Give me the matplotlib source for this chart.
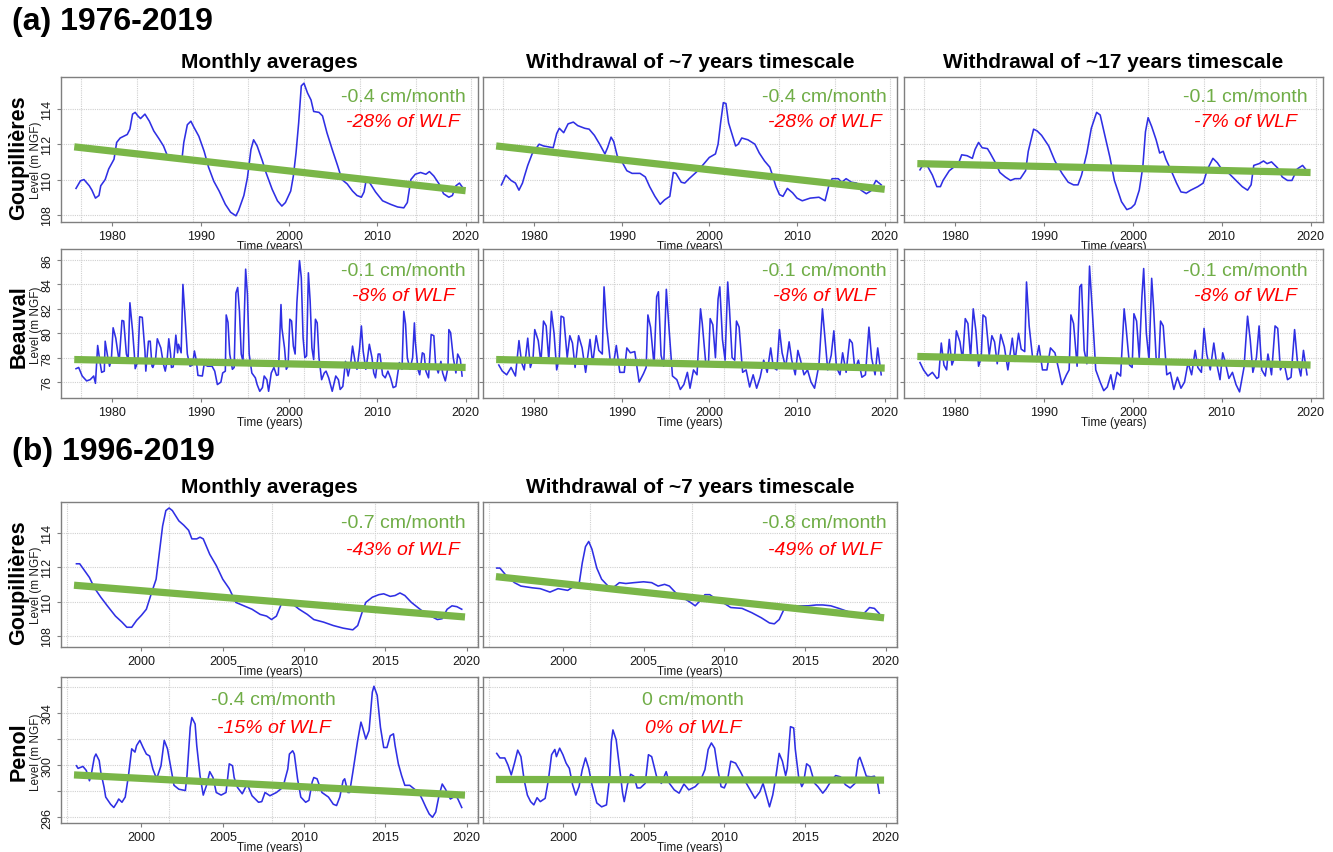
import matplotlib
matplotlib.use("Agg")
import matplotlib.pyplot as plt

plt.rcParams['font.family'] = ['Liberation Sans', 'DejaVu Sans']

# ---------------- DATA ----------------
# (a) 1976-2019 — Goupillières, monthly averages
a_goup_m_t = [1975.9, 1976.4, 1976.8, 1977.4, 1977.7, 1978.1, 1978.5, 1978.7, 1979.2, 1979.6,
              1980.2, 1980.5, 1980.9, 1981.7, 1982.0, 1982.3, 1982.6, 1982.9, 1983.2, 1983.7,
              1984.2, 1984.7, 1985.3, 1985.8, 1986.2, 1986.8, 1987.4, 1987.9, 1988.1, 1988.5,
              1988.9, 1989.2, 1989.8, 1990.4, 1990.9, 1991.5, 1992.1, 1992.8, 1993.4, 1994.0,
              1994.3, 1994.9, 1995.3, 1995.7, 1996.0, 1996.4, 1997.0, 1997.4, 1998.1, 1998.7,
              1999.2, 1999.6, 2000.2, 2000.5, 2000.8, 2001.1, 2001.4, 2001.7, 2002.1, 2002.5,
              2002.8, 2003.4, 2003.8, 2004.3, 2004.9, 2005.5, 2006.0, 2006.6, 2007.2, 2007.7,
              2008.2, 2008.5, 2008.7, 2009.1, 2009.8, 2010.6, 2011.5, 2012.3, 2013.0, 2013.4,
              2013.8, 2014.3, 2014.9, 2015.5, 2015.9, 2016.4, 2017.0, 2017.5, 2018.1, 2018.5,
              2018.9, 2019.3, 2019.8]
a_goup_m_v = [109.5, 109.93, 110.0, 109.65, 109.4, 108.95, 109.1, 109.65, 110.0, 110.6,
              111.15, 112.1, 112.35, 112.55, 112.85, 113.7, 113.8, 113.6, 113.45, 113.7,
              113.3, 112.75, 112.3, 111.9, 111.4, 111.35, 111.25, 111.2, 112.1, 113.1,
              113.3, 113.0, 112.45, 111.6, 110.7, 109.9, 109.35, 108.6, 108.15, 107.95,
              108.25, 109.1, 110.1, 111.7, 112.25, 111.9, 111.05, 110.4, 109.45, 108.8,
              108.5, 108.7, 109.35, 110.2, 111.5, 113.2, 115.3, 115.45, 114.9, 114.5,
              113.85, 113.8, 113.6, 112.65, 111.7, 110.8, 110.0, 109.75, 109.35, 109.1,
              109.0, 109.3, 109.85, 109.85, 109.3, 108.8, 108.6, 108.45, 108.4, 108.7,
              110.0, 110.3, 110.4, 110.3, 110.45, 110.2, 109.75, 109.2, 109.0, 109.1,
              109.65, 109.8, 109.45]

# (a) Goupillières, withdrawal of ~7 years timescale
a_goup_7_t = [1976.3, 1976.8, 1977.4, 1977.9, 1978.3, 1978.7, 1978.9, 1979.3, 1979.8, 1980.6,
              1981.1, 1982.2, 1982.6, 1982.9, 1983.4, 1983.9, 1984.5, 1985.0, 1985.8, 1986.3,
              1986.9, 1987.5, 1988.1, 1988.4, 1988.8, 1989.1, 1989.5, 1990.1, 1990.6, 1991.2,
              1992.1, 1992.7, 1993.2, 1993.8, 1994.4, 1994.9, 1995.5, 1995.9, 1996.2, 1996.8,
              1997.2, 1997.7, 1998.7, 1999.4, 2000.0, 2000.7, 2001.0, 2001.3, 2001.6, 2001.9,
              2002.2, 2002.6, 2003.0, 2003.3, 2003.7, 2004.4, 2005.2, 2005.7, 2006.3, 2006.9,
              2007.2, 2007.6, 2008.0, 2008.4, 2008.9, 2009.5, 2010.0, 2010.6, 2011.5, 2012.5,
              2013.2, 2013.6, 2014.0, 2014.7, 2015.1, 2015.6, 2016.2, 2016.8, 2017.3, 2017.9,
              2018.4, 2019.0, 2019.6]
a_goup_7_v = [109.7, 110.25, 109.95, 109.8, 109.4, 109.8, 110.15, 110.8, 111.45, 112.0,
              111.9, 111.8, 112.6, 112.9, 112.65, 113.15, 113.25, 113.05, 112.9, 112.85,
              112.5, 112.0, 111.45, 111.8, 112.4, 112.15, 111.35, 110.95, 110.5, 110.35,
              110.35, 110.15, 109.6, 109.05, 108.6, 108.85, 109.05, 110.4, 110.35, 109.85,
              109.8, 110.05, 110.5, 110.9, 111.25, 111.45, 112.0, 113.25, 114.35, 114.3,
              113.2, 112.55, 111.9, 112.0, 112.35, 112.25, 112.0, 111.5, 111.05, 110.7,
              110.25, 109.6, 109.15, 109.05, 109.5, 109.25, 108.95, 108.8, 108.95, 109.0,
              108.8, 109.6, 110.05, 110.05, 109.85, 110.05, 109.85, 109.8, 109.4, 109.2,
              109.35, 109.95, 109.7]

# (a) Goupillières, withdrawal of ~17 years timescale
a_goup_17_t = [1976.0, 1976.3, 1976.8, 1977.4, 1977.9, 1978.3, 1978.6, 1979.3, 1979.8, 1980.4,
               1980.7, 1981.3, 1981.9, 1982.2, 1982.6, 1983.0, 1983.6, 1983.9, 1984.5, 1985.0,
               1985.6, 1986.2, 1986.7, 1987.3, 1987.9, 1988.2, 1988.8, 1989.2, 1989.7, 1990.5,
               1991.2, 1992.0, 1992.7, 1993.3, 1993.8, 1994.2, 1994.8, 1995.3, 1995.9, 1996.3,
               1996.8, 1997.4, 1997.9, 1998.7, 1999.3, 1999.8, 2000.2, 2000.7, 2001.1, 2001.4,
               2001.7, 2002.1, 2002.6, 2003.0, 2003.4, 2003.7, 2004.3, 2004.9, 2005.4, 2006.0,
               2006.5, 2007.3, 2007.9, 2008.4, 2009.0, 2009.5, 2010.1, 2010.8, 2011.6, 2012.3,
               2012.9, 2013.3, 2013.6, 2014.2, 2014.7, 2015.1, 2015.6, 2016.3, 2016.8, 2017.4,
               2017.9, 2018.5, 2019.1, 2019.5]
a_goup_17_v = [110.55, 110.8, 110.8, 110.25, 109.6, 109.6, 109.95, 110.5, 110.7, 111.0,
               111.4, 111.35, 111.2, 111.7, 112.1, 111.8, 111.75, 111.5, 110.95, 110.4,
               110.15, 109.95, 110.05, 110.05, 110.5, 111.6, 112.85, 112.75, 112.5, 111.9,
               111.05, 110.35, 109.85, 109.7, 109.7, 110.25, 111.5, 112.9, 113.8, 113.65,
               112.55, 111.25, 109.95, 108.75, 108.3, 108.4, 108.6, 109.4, 110.7, 112.7,
               113.5, 113.0, 112.25, 111.5, 111.6, 111.15, 110.5, 109.8, 109.3, 109.25,
               109.4, 109.6, 109.8, 110.6, 111.2, 110.95, 110.5, 110.35, 109.95, 109.6,
               109.4, 109.7, 110.8, 110.9, 111.05, 110.9, 111.0, 110.65, 110.15, 109.95,
               109.95, 110.6, 110.8, 110.55]

# (a) Beauval, monthly averages
a_beau_m_t = [1975.9, 1976.2, 1976.6, 1977.1, 1977.5, 1977.9, 1978.1, 1978.35, 1978.6, 1978.8,
              1979.1, 1979.2, 1979.5, 1979.7, 1979.9, 1980.1, 1980.4, 1980.7, 1980.8, 1981.1,
              1981.3, 1981.6, 1981.8, 1982.0, 1982.3, 1982.5, 1982.6, 1982.9, 1983.1, 1983.4,
              1983.7, 1983.8, 1984.1, 1984.3, 1984.5, 1984.6, 1984.9, 1985.1, 1985.5, 1985.8,
              1986.0, 1986.2, 1986.4, 1986.6, 1986.7, 1986.9, 1987.2, 1987.4, 1987.5, 1987.8,
              1988.0, 1988.2, 1988.5, 1988.8, 1989.1, 1989.3, 1989.5, 1989.7, 1990.2, 1990.4,
              1990.8, 1991.3, 1991.6, 1991.9, 1992.3, 1992.5, 1992.8, 1992.9, 1993.1, 1993.3,
              1993.6, 1993.8, 1994.0, 1994.2, 1994.4, 1994.6, 1994.8, 1995.1, 1995.3, 1995.5,
              1995.8, 1996.2, 1996.4, 1996.7, 1997.0, 1997.2, 1997.5, 1997.7, 1998.0, 1998.3,
              1998.6, 1998.8, 1999.1, 1999.2, 1999.5, 1999.7, 1999.9, 2000.1, 2000.3, 2000.5,
              2000.7, 2000.9, 2001.2, 2001.4, 2001.6, 2001.8, 2002.0, 2002.2, 2002.4, 2002.6,
              2002.8, 2003.0, 2003.2, 2003.4, 2003.7, 2004.0, 2004.2, 2004.5, 2004.9, 2005.3,
              2005.6, 2005.8, 2006.1, 2006.4, 2006.7, 2007.0, 2007.2, 2007.5, 2007.7, 2008.0,
              2008.2, 2008.4, 2008.7, 2008.9, 2009.1, 2009.4, 2009.6, 2009.8, 2010.1, 2010.3,
              2010.6, 2010.9, 2011.2, 2011.5, 2011.8, 2012.1, 2012.5, 2012.8, 2013.0, 2013.2,
              2013.4, 2013.7, 2014.0, 2014.2, 2014.3, 2014.6, 2014.8, 2015.1, 2015.3, 2015.5,
              2015.8, 2016.1, 2016.4, 2016.6, 2016.9, 2017.2, 2017.4, 2017.7, 2018.0, 2018.1,
              2018.3, 2018.6, 2018.9, 2019.1, 2019.4, 2019.6]
a_beau_m_v = [77.1, 77.2, 76.5, 76.1, 76.2, 76.5, 75.9, 79.0, 77.7, 76.8,
              76.9, 79.35, 78.0, 77.3, 77.85, 80.45, 79.6, 78.1, 77.85, 81.05,
              81.0, 78.3, 77.85, 82.5, 80.2, 78.3, 77.1, 77.7, 81.35, 81.3,
              78.55, 76.9, 79.35, 79.35, 77.3, 77.2, 77.85, 79.55, 78.8, 77.45,
              76.9, 77.7, 79.55, 78.3, 77.2, 77.25, 79.85, 78.4, 79.1, 78.4,
              84.0, 81.8, 78.3, 77.3, 77.4, 78.55, 77.85, 76.55, 76.5, 77.45,
              77.3, 77.3, 76.9, 75.8, 76.0, 76.75, 76.9, 81.5, 80.9, 78.3,
              77.05, 77.2, 83.3, 83.75, 81.8, 78.3, 77.7, 85.25, 83.2, 78.3,
              76.75, 76.35, 75.8, 75.25, 75.55, 76.5, 76.2, 75.25, 76.75, 77.2,
              76.55, 76.6, 82.35, 80.45, 78.8, 77.05, 77.3, 81.15, 81.0, 78.95,
              78.3, 82.5, 85.95, 84.55, 79.65, 78.0, 78.15, 84.95, 82.65, 78.8,
              77.85, 81.15, 80.85, 78.0, 76.2, 76.75, 76.9, 76.35, 75.25, 76.5,
              76.2, 75.4, 75.65, 77.7, 76.5, 77.6, 78.95, 77.6, 77.05, 78.8,
              80.6, 78.55, 77.05, 78.0, 79.1, 78.0, 76.75, 76.35, 78.3, 78.3,
              76.6, 76.35, 76.9, 76.35, 75.55, 75.65, 77.6, 77.05, 81.8, 80.75,
              78.0, 77.05, 78.0, 80.85, 79.35, 77.05, 76.6, 78.4, 78.3, 76.9,
              76.35, 79.9, 79.8, 77.45, 76.75, 77.7, 76.75, 76.1, 77.2, 80.3,
              80.05, 78.0, 76.75, 78.3, 77.85, 76.5]

# (a) Beauval, withdrawal of ~7 years timescale
a_beau_7_t = [1976.0, 1976.4, 1976.9, 1977.4, 1977.9, 1978.3, 1978.6, 1978.9, 1979.3, 1979.6,
              1979.9, 1980.1, 1980.5, 1980.8, 1981.1, 1981.4, 1981.7, 1982.0, 1982.3, 1982.6,
              1982.9, 1983.1, 1983.4, 1983.8, 1984.1, 1984.4, 1984.7, 1985.1, 1985.5, 1985.9,
              1986.4, 1986.7, 1987.1, 1987.4, 1987.8, 1988.0, 1988.3, 1988.7, 1989.1, 1989.4,
              1989.8, 1990.3, 1990.6, 1991.0, 1991.5, 1992.0, 1992.5, 1992.8, 1993.0, 1993.3,
              1993.7, 1994.0, 1994.2, 1994.5, 1994.8, 1995.1, 1995.4, 1995.8, 1996.3, 1996.7,
              1997.1, 1997.5, 1997.8, 1998.2, 1998.6, 1999.0, 1999.2, 1999.6, 1999.9, 2000.1,
              2000.4, 2000.7, 2001.0, 2001.2, 2001.5, 2001.8, 2002.1, 2002.3, 2002.6, 2002.9,
              2003.1, 2003.4, 2003.8, 2004.2, 2004.6, 2005.0, 2005.4, 2005.8, 2006.2, 2006.6,
              2007.0, 2007.3, 2007.7, 2008.0, 2008.3, 2008.7, 2009.1, 2009.4, 2009.8, 2010.1,
              2010.4, 2010.8, 2011.2, 2011.6, 2012.0, 2012.5, 2012.9, 2013.2, 2013.5, 2013.9,
              2014.2, 2014.5, 2014.9, 2015.2, 2015.6, 2016.0, 2016.3, 2016.6, 2017.0, 2017.4,
              2017.8, 2018.2, 2018.5, 2018.9, 2019.2, 2019.6]
a_beau_7_v = [77.4, 76.9, 76.6, 77.2, 76.5, 79.4, 77.6, 77.0, 79.6, 77.2,
              77.9, 80.3, 79.4, 77.6, 81.0, 80.6, 77.8, 81.8, 80.0, 77.0,
              78.0, 81.4, 81.3, 78.0, 79.8, 79.2, 77.2, 79.8, 78.8, 76.8,
              79.5, 77.5, 79.8, 78.6, 78.3, 83.8, 80.5, 77.8, 77.6, 79.0,
              76.8, 76.8, 78.8, 78.4, 78.5, 76.0, 76.7, 77.2, 81.5, 80.5,
              77.4, 83.0, 83.4, 78.2, 77.3, 83.6, 80.5, 76.5, 76.2, 75.4,
              75.8, 76.8, 75.5, 77.0, 76.6, 82.0, 80.8, 77.5, 77.4, 81.2,
              80.7, 78.0, 82.8, 83.8, 79.5, 77.8, 84.2, 82.0, 78.0, 77.8,
              81.0, 80.5, 76.8, 77.0, 75.6, 76.6, 75.5, 76.4, 77.8, 76.8,
              78.8, 77.2, 77.0, 80.3, 78.4, 77.2, 79.3, 77.8, 76.6, 78.6,
              77.8, 76.6, 77.0, 76.0, 75.5, 77.4, 82.0, 79.5, 77.0, 78.2,
              80.2, 77.2, 76.6, 78.4, 76.8, 79.5, 79.2, 77.0, 77.8, 76.4,
              76.6, 80.5, 78.0, 76.6, 78.8, 76.6]

# (a) Beauval, withdrawal of ~17 years timescale
a_beau_17_t = [1976.0, 1976.4, 1976.9, 1977.4, 1977.9, 1978.1, 1978.4, 1978.7, 1979.0, 1979.3,
               1979.6, 1979.9, 1980.1, 1980.5, 1980.8, 1981.1, 1981.4, 1981.7, 1982.0, 1982.3,
               1982.6, 1982.9, 1983.1, 1983.4, 1983.8, 1984.1, 1984.4, 1984.7, 1985.1, 1985.5,
               1985.9, 1986.4, 1986.7, 1987.1, 1987.4, 1987.8, 1988.0, 1988.3, 1988.7, 1989.1,
               1989.4, 1989.8, 1990.3, 1990.7, 1991.2, 1991.7, 1992.0, 1992.5, 1992.8, 1993.0,
               1993.3, 1993.7, 1994.0, 1994.2, 1994.5, 1994.8, 1995.1, 1995.4, 1995.8, 1996.3,
               1996.7, 1997.1, 1997.5, 1997.8, 1998.2, 1998.6, 1999.0, 1999.2, 1999.6, 1999.9,
               2000.1, 2000.4, 2000.7, 2001.0, 2001.2, 2001.5, 2001.8, 2002.1, 2002.3, 2002.6,
               2002.9, 2003.1, 2003.4, 2003.8, 2004.2, 2004.6, 2005.0, 2005.4, 2005.8, 2006.2,
               2006.6, 2007.0, 2007.3, 2007.7, 2008.0, 2008.3, 2008.7, 2009.1, 2009.4, 2009.8,
               2010.1, 2010.4, 2010.8, 2011.2, 2011.6, 2012.0, 2012.5, 2012.9, 2013.2, 2013.5,
               2013.9, 2014.2, 2014.5, 2014.9, 2015.2, 2015.6, 2016.0, 2016.3, 2016.6, 2017.0,
               2017.4, 2017.8, 2018.2, 2018.5, 2018.9, 2019.2, 2019.6]
a_beau_17_v = [77.6, 77.0, 76.5, 76.8, 76.3, 76.4, 79.2, 77.4, 77.0, 79.5,
               77.4, 78.0, 80.2, 79.3, 77.8, 81.2, 80.8, 78.0, 82.0, 80.2,
               77.3, 78.0, 81.5, 81.3, 78.2, 79.8, 79.3, 77.5, 79.9, 78.9,
               77.0, 79.6, 77.7, 80.0, 78.7, 78.5, 84.2, 80.6, 77.9, 77.8,
               79.0, 77.0, 77.0, 78.8, 78.4, 76.8, 75.8, 76.6, 77.0, 81.5,
               80.8, 77.3, 83.8, 84.0, 78.6, 77.5, 85.5, 82.0, 77.0, 76.0,
               75.3, 75.6, 76.6, 75.4, 76.8, 76.5, 82.0, 80.6, 77.4, 77.2,
               81.6, 81.0, 78.0, 83.0, 85.3, 80.0, 77.8, 84.5, 82.3, 78.0,
               77.6, 81.0, 80.6, 76.6, 76.8, 75.4, 76.4, 75.5, 76.0, 77.6,
               76.6, 78.6, 77.2, 76.8, 80.4, 78.3, 77.0, 79.2, 77.6, 76.2,
               78.4, 77.6, 76.3, 76.8, 75.8, 75.2, 77.2, 81.4, 79.5, 76.8,
               78.0, 80.6, 77.0, 76.5, 78.3, 76.6, 80.6, 80.4, 77.0, 77.6,
               76.2, 76.4, 80.3, 77.8, 76.5, 78.6, 76.6]

# (b) 1996-2019 — Goupillières, monthly averages
b_goup_m_t = [1996.0, 1996.2, 1996.5, 1996.8, 1997.1, 1997.5, 1997.9, 1998.4, 1998.8, 1999.1,
              1999.4, 1999.7, 2000.0, 2000.3, 2000.6, 2000.9, 2001.1, 2001.3, 2001.5, 2001.7,
              2001.9, 2002.3, 2002.6, 2002.9, 2003.1, 2003.4, 2003.6, 2003.8, 2004.2, 2004.6,
              2005.0, 2005.4, 2005.8, 2006.3, 2006.8, 2007.3, 2007.7, 2008.0, 2008.3, 2008.6,
              2008.9, 2009.3, 2009.7, 2010.2, 2010.6, 2011.2, 2011.8, 2012.4, 2013.0, 2013.3,
              2013.6, 2013.8, 2014.2, 2014.6, 2014.9, 2015.3, 2015.6, 2015.9, 2016.2, 2016.6,
              2017.0, 2017.4, 2017.8, 2018.2, 2018.5, 2018.8, 2019.1, 2019.4, 2019.7]
b_goup_m_v = [112.2, 112.2, 111.8, 111.4, 110.8, 110.25, 109.75, 109.15, 108.8, 108.5,
              108.5, 108.9, 109.2, 109.55, 110.45, 111.3, 112.85, 114.4, 115.3, 115.45,
              115.3, 114.7, 114.45, 114.15, 113.65, 113.65, 113.75, 113.65, 112.75, 112.1,
              111.3, 110.75, 109.95, 109.75, 109.55, 109.25, 109.15, 108.95, 109.15, 109.85,
              109.95, 109.85, 109.55, 109.25, 108.95, 108.8, 108.6, 108.45, 108.35, 108.6,
              109.45, 109.95, 110.25, 110.4, 110.45, 110.3, 110.35, 110.5, 110.35, 109.95,
              109.65, 109.35, 109.15, 108.95, 109.0, 109.55, 109.75, 109.7, 109.55]

# (b) Goupillières, withdrawal of ~7 years timescale
b_goup_7_t = [1995.9, 1996.1, 1996.5, 1997.0, 1997.4, 1998.1, 1998.6, 1999.2, 1999.7, 2000.3,
              2000.7, 2001.0, 2001.2, 2001.4, 2001.6, 2001.8, 2002.1, 2002.4, 2002.8, 2003.1,
              2003.5, 2003.9, 2004.4, 2005.0, 2005.5, 2005.9, 2006.3, 2006.6, 2007.0, 2007.4,
              2007.9, 2008.2, 2008.5, 2008.8, 2009.1, 2009.4, 2009.9, 2010.4, 2011.1, 2011.7,
              2012.3, 2012.8, 2013.1, 2013.4, 2013.7, 2014.1, 2014.6, 2015.2, 2015.7, 2016.1,
              2016.6, 2017.1, 2017.7, 2018.3, 2018.7, 2019.0, 2019.3, 2019.6]
b_goup_7_v = [111.95, 111.95, 111.5, 111.1, 110.9, 110.8, 110.75, 110.55, 110.75, 110.65,
              110.9, 111.0, 112.25, 113.2, 113.5, 113.05, 111.95, 111.3, 110.9, 110.8,
              111.1, 111.05, 111.1, 111.15, 111.1, 110.9, 111.0, 110.9, 110.5, 110.25,
              109.95, 109.75, 110.05, 110.4, 110.4, 110.2, 109.95, 109.65, 109.6, 109.35,
              109.05, 108.75, 108.7, 108.95, 109.55, 109.75, 109.75, 109.75, 109.8, 109.8,
              109.75, 109.6, 109.4, 109.3, 109.35, 109.65, 109.6, 109.3]

# (b) Penol, monthly averages
b_penol_m_t = [1996.0, 1996.1, 1996.3, 1996.4, 1996.6, 1996.7, 1996.8, 1996.9, 1997.1, 1997.2,
               1997.4, 1997.5, 1997.7, 1997.8, 1998.1, 1998.3, 1998.5, 1998.6, 1998.8, 1999.0,
               1999.2, 1999.4, 1999.6, 1999.7, 1999.9, 2000.1, 2000.3, 2000.5, 2000.7, 2000.9,
               2001.0, 2001.2, 2001.4, 2001.6, 2001.8, 2002.0, 2002.3, 2002.7, 2002.8, 2003.0,
               2003.1, 2003.3, 2003.4, 2003.6, 2003.8, 2004.0, 2004.2, 2004.4, 2004.6, 2004.9,
               2005.2, 2005.4, 2005.6, 2005.7, 2005.9, 2006.2, 2006.5, 2006.8, 2007.2, 2007.4,
               2007.6, 2007.9, 2008.3, 2008.7, 2009.0, 2009.1, 2009.3, 2009.4, 2009.6, 2009.8,
               2010.1, 2010.3, 2010.5, 2010.6, 2010.8, 2011.1, 2011.5, 2011.8, 2012.0, 2012.2,
               2012.4, 2012.5, 2012.7, 2012.8, 2013.0, 2013.3, 2013.5, 2013.6, 2013.8, 2014.0,
               2014.2, 2014.3, 2014.5, 2014.7, 2014.9, 2015.1, 2015.3, 2015.5, 2015.6, 2015.8,
               2016.0, 2016.2, 2016.5, 2016.8, 2017.1, 2017.3, 2017.5, 2017.7, 2017.9, 2018.1,
               2018.3, 2018.5, 2018.7, 2019.0, 2019.2, 2019.3, 2019.5, 2019.7]
b_penol_m_v = [299.95, 299.75, 299.85, 299.9, 299.6, 299.25, 298.8, 299.2, 300.6, 300.85,
               300.35, 299.45, 298.3, 297.55, 297.0, 296.75, 297.15, 297.4, 297.15, 297.55,
               299.2, 301.25, 301.0, 301.5, 301.9, 301.35, 300.85, 300.7, 299.7, 299.05,
               299.2, 299.95, 301.9, 301.25, 299.85, 298.45, 298.15, 298.05, 299.2, 302.9,
               303.65, 303.15, 301.5, 299.2, 297.7, 298.45, 299.5, 299.05, 297.9, 297.7,
               297.9, 300.1, 299.95, 299.05, 298.3, 297.8, 298.55, 297.65, 297.15, 297.2,
               297.9, 297.65, 297.9, 298.3, 299.7, 300.85, 301.1, 300.85, 298.95, 297.55,
               297.15, 297.3, 298.7, 299.05, 298.95, 297.9, 297.55, 297.0, 296.9, 297.55,
               298.8, 298.95, 297.9, 297.9, 299.45, 301.9, 303.3, 302.9, 302.0, 302.65,
               305.6, 306.05, 305.35, 302.9, 301.35, 301.35, 302.25, 302.4, 301.5, 300.1,
               299.2, 298.45, 298.45, 298.15, 297.8, 297.3, 296.75, 296.25, 296.0, 296.4,
               297.65, 298.55, 298.15, 297.4, 297.55, 297.8, 297.3, 296.75]

# (b) Penol, withdrawal of ~7 years timescale
b_penol_7_t = [1995.9, 1996.1, 1996.4, 1996.6, 1996.8, 1997.0, 1997.2, 1997.4, 1997.6, 1997.8,
               1998.0, 1998.2, 1998.4, 1998.6, 1998.9, 1999.1, 1999.3, 1999.5, 1999.6, 1999.8,
               2000.0, 2000.2, 2000.4, 2000.6, 2000.8, 2001.0, 2001.2, 2001.4, 2001.6, 2001.8,
               2002.1, 2002.4, 2002.7, 2002.9, 2003.0, 2003.1, 2003.3, 2003.5, 2003.7, 2003.8,
               2004.0, 2004.2, 2004.4, 2004.6, 2004.8, 2005.1, 2005.3, 2005.5, 2005.8, 2006.1,
               2006.4, 2006.6, 2006.9, 2007.2, 2007.5, 2007.8, 2008.2, 2008.5, 2008.8, 2009.0,
               2009.2, 2009.4, 2009.6, 2009.8, 2010.0, 2010.2, 2010.4, 2010.7, 2011.0, 2011.3,
               2011.6, 2011.9, 2012.2, 2012.4, 2012.6, 2012.8, 2013.0, 2013.2, 2013.4, 2013.6,
               2013.8, 2013.9, 2014.1, 2014.3, 2014.4, 2014.6, 2014.8, 2014.9, 2015.1, 2015.3,
               2015.6, 2015.8, 2016.1, 2016.3, 2016.6, 2016.9, 2017.2, 2017.5, 2017.8, 2018.1,
               2018.3, 2018.4, 2018.6, 2018.8, 2019.1, 2019.3, 2019.5, 2019.6]
b_penol_7_v = [300.9, 300.55, 300.55, 300.0, 299.25, 300.15, 301.15, 300.65, 298.85, 297.7,
               297.2, 296.95, 297.5, 297.2, 297.45, 298.85, 300.8, 301.2, 300.65, 301.3,
               300.8, 300.15, 299.75, 298.5, 297.7, 298.35, 299.65, 300.55, 299.75, 298.5,
               297.1, 296.8, 296.95, 299.15, 301.8, 302.7, 301.95, 299.9, 297.85, 297.2,
               298.5, 299.3, 299.15, 298.25, 298.25, 298.6, 300.8, 300.65, 299.15, 298.6,
               299.5, 298.6, 298.1, 297.85, 298.55, 298.1, 298.35, 298.75, 299.65, 301.2,
               301.7, 301.3, 299.65, 298.35, 298.25, 298.85, 300.3, 300.15, 299.5, 298.75,
               298.1, 297.45, 297.95, 298.6, 297.7, 296.8, 297.7, 299.15, 300.9, 300.3,
               299.2, 299.75, 302.95, 302.85, 301.2, 299.15, 298.35, 298.6, 300.1, 299.9,
               298.6, 298.35, 297.85, 298.15, 298.75, 299.2, 299.1, 298.5, 298.25, 298.6,
               300.4, 300.6, 299.9, 299.15, 299.1, 299.15, 298.6, 297.85]

# linear trends (start, end values) and annotations
trend_years_a = [1975.7, 2020.0]
trend_years_b = [1995.85, 2019.9]
trend_a_goup_m = [111.85, 109.37]
trend_a_goup_7 = [111.9, 109.45]
trend_a_goup_17 = [110.9, 110.4]
trend_a_beau_m = [77.85, 77.2]
trend_a_beau_7 = [77.85, 77.15]
trend_a_beau_17 = [78.1, 77.4]
trend_b_goup_m = [110.95, 109.1]
trend_b_goup_7 = [111.45, 109.05]
trend_b_penol_m = [299.25, 297.7]
trend_b_penol_7 = [298.9, 298.85]

rates = ["-0.4 cm/month", "-0.4 cm/month", "-0.1 cm/month",
         "-0.1 cm/month", "-0.1 cm/month", "-0.1 cm/month",
         "-0.7 cm/month", "-0.8 cm/month",
         "-0.4 cm/month", "0 cm/month"]
shares = ["-28% of WLF", "-28% of WLF", "-7% of WLF",
          "-8% of WLF", "-8% of WLF", "-8% of WLF",
          "-43% of WLF", "-49% of WLF",
          "-15% of WLF", "0% of WLF"]
col_titles = ["Monthly averages", "Withdrawal of ~7 years timescale",
              "Withdrawal of ~17 years timescale"]

xticks_a = [1980, 1990, 2000, 2010, 2020]
xticks_b = [2000, 2005, 2010, 2015, 2020]
yticks_goup = [108, 110, 112, 114]
yticks_beau = [76, 78, 80, 82, 84, 86]
yticks_penol = [296, 298, 300, 302, 304, 306]
ylabels_penol = ["296", "", "300", "", "304", ""]
vgrid_years = [1976.45, 1982.8, 1989.1, 1995.4, 2001.7, 2008.0, 2014.35, 2020.65]

# ---------------- STYLE / LAYOUT ----------------
W, H = 1333, 853
fig = plt.figure(figsize=(W / 100, H / 100), dpi=100)
fig.patch.set_facecolor("white")

BLUE = "#2F2FE4"
GREEN_LINE = "#7AB648"
GREEN_TXT = "#70AD47"
RED = "#FF0000"
GREY = "#7F7F7F"


def make_axes(x0, y0, x1, y1):
    return fig.add_axes([x0 / W, 1 - y1 / H, (x1 - x0) / W, (y1 - y0) / H])


def panel(box, t, v, trend_x, trend_v, xlim, ylim, xticks, yticks, ylabels,
          show_ylabels, rate, share, tx, gy, ry, title=None):
    ax = make_axes(*box)
    ax.set_xticks(xticks)
    ax.set_yticks(yticks)
    ax.set_xticks([g for g in vgrid_years if xlim[0] < g < xlim[1]], minor=True)
    ax.set_xlim(*xlim)
    ax.set_ylim(*ylim)
    ax.grid(False)
    ax.grid(which="minor", axis="x", color="#D0D0D0", linestyle=(0, (1, 1)), linewidth=0.8)
    ax.grid(which="major", axis="y", color="#D0D0D0", linestyle=(0, (1, 1)), linewidth=0.8)
    ax.set_axisbelow(True)
    ax.tick_params(which="minor", length=0)
    ax.tick_params(which="major", direction="out", length=3, width=0.8, color=GREY,
                   labelsize=9, labelcolor="#1a1a1a", pad=2.5)
    if show_ylabels:
        ax.set_yticklabels(ylabels, rotation=90, va="center")
    else:
        ax.set_yticklabels([])
    for s in ax.spines.values():
        s.set_color(GREY)
        s.set_linewidth(1.0)
    ax.plot(t, v, color=BLUE, linewidth=1.15, zorder=3)
    ax.plot(trend_x, trend_v, color=GREEN_LINE, linewidth=5.2, solid_capstyle="butt", zorder=4)
    ax.set_xlabel("Time (years)", fontsize=8.5, labelpad=-1.5, color="#1a1a1a")
    ax.text(tx, gy, rate, transform=ax.transAxes, color=GREEN_TXT, fontsize=14,
            ha="center", va="center", zorder=5)
    ax.text(tx, ry, share, transform=ax.transAxes, color=RED, fontsize=14,
            style="italic", ha="center", va="center", zorder=5)
    if title:
        ax.set_title(title, fontsize=15, fontweight="bold", pad=7)
    return ax


cols_a = [(61, 478), (483, 897), (904, 1323)]
xlim_a = (1974.2, 2021.4)
xlim_b = (1995.05, 2020.7)
ylim_goup_a = (107.6, 115.8)
ylim_beau = (74.7, 86.9)
ylim_goup_b = (107.35, 115.8)
ylim_penol = (295.56, 306.76)

# Row (a) Goupillières
goup_a = [(a_goup_m_t, a_goup_m_v, trend_a_goup_m),
          (a_goup_7_t, a_goup_7_v, trend_a_goup_7),
          (a_goup_17_t, a_goup_17_v, trend_a_goup_17)]
text_x_a = [0.82, 0.825, 0.815]
for i, (t, v, tr) in enumerate(goup_a):
    x0, x1 = cols_a[i]
    panel((x0, 78, x1, 223), t, v, trend_years_a, tr, xlim_a, ylim_goup_a, xticks_a,
          yticks_goup, [str(y) for y in yticks_goup], i == 0, rates[i], shares[i],
          text_x_a[i], 0.865, 0.69, title=col_titles[i])

beau_a = [(a_beau_m_t, a_beau_m_v, trend_a_beau_m),
          (a_beau_7_t, a_beau_7_v, trend_a_beau_7),
          (a_beau_17_t, a_beau_17_v, trend_a_beau_17)]
for i, (t, v, tr) in enumerate(beau_a):
    x0, x1 = cols_a[i]
    panel((x0, 250, x1, 399), t, v, trend_years_a, tr, xlim_a, ylim_beau, xticks_a,
          yticks_beau, [str(y) for y in yticks_beau], i == 0, rates[3 + i], shares[3 + i],
          text_x_a[i], 0.855, 0.69)

# Row (b)
cols_b = [(61, 478), (483, 897)]
goup_b = [(b_goup_m_t, b_goup_m_v, trend_b_goup_m),
          (b_goup_7_t, b_goup_7_v, trend_b_goup_7)]
text_x_b = [0.82, 0.825]
for i, (t, v, tr) in enumerate(goup_b):
    x0, x1 = cols_b[i]
    panel((x0, 503, x1, 648), t, v, trend_years_b, tr, xlim_b, ylim_goup_b, xticks_b,
          yticks_goup, [str(y) for y in yticks_goup], i == 0, rates[6 + i], shares[6 + i],
          text_x_b[i], 0.86, 0.675, title=col_titles[i])

penol_b = [(b_penol_m_t, b_penol_m_v, trend_b_penol_m),
           (b_penol_7_t, b_penol_7_v, trend_b_penol_7)]
text_x_pen = [0.51, 0.507]
for i, (t, v, tr) in enumerate(penol_b):
    x0, x1 = cols_b[i]
    panel((x0, 678, x1, 824), t, v, trend_years_b, tr, xlim_b, ylim_penol, xticks_b,
          yticks_penol, ylabels_penol, i == 0, rates[8 + i], shares[8 + i],
          text_x_pen[i], 0.845, 0.655)

# Figure-level labels
fig.text(12 / W, 1 - 22 / H, "(a) 1976-2019", fontsize=23, fontweight="bold",
         ha="left", va="center")
fig.text(12 / W, 1 - 452 / H, "(b) 1996-2019", fontsize=23, fontweight="bold",
         ha="left", va="center")

row_labels = [("Goupillières", 158), ("Beauval", 327), ("Goupillières", 583), ("Penol", 752)]
for name, yc in row_labels:
    fig.text(19 / W, 1 - yc / H, name, rotation=90, fontsize=15.5, fontweight="bold",
             ha="center", va="center")

for yc in [160, 325, 585, 752]:
    fig.text(36 / W, 1 - yc / H, "Level (m NGF)", rotation=90, fontsize=8.5,
             ha="center", va="center", color="#1a1a1a")

fig.savefig("out.png", dpi=100, facecolor="white")
